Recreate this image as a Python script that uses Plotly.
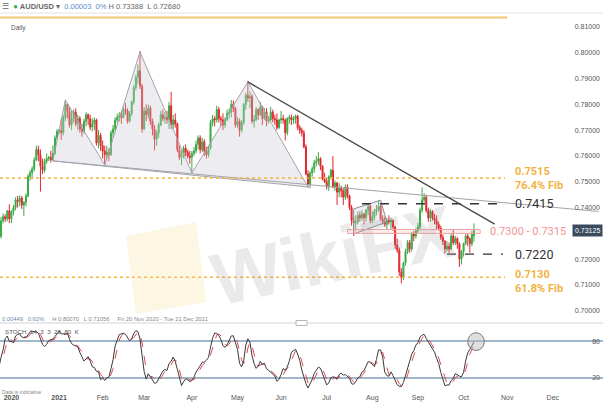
import numpy as np
import pandas as pd
import plotly.graph_objects as go

# AUD/USD daily candles, Fri 20 Nov 2020 - Fri 8 Oct 2021 (prices in pips, x 0.0001)
DATES = pd.bdate_range("2020-11-20", "2021-10-08")

OPEN = [7310,
        7295, 7288, 7349, 7365, 7357,  7387, 7357, 7385, 7400, 7430,
        7424, 7437, 7410, 7420, 7445,  7520, 7535, 7550, 7585, 7625,
        7605, 7560, 7545, 7580, 7590,  7595, 7585, 7610, 7670, 7695,
        7700, 7690, 7750, 7800, 7775,  7720, 7745, 7770, 7725, 7745,
        7705, 7695, 7735, 7760, 7745,  7712, 7725, 7740, 7650, 7680,
        7640, 7620, 7605, 7615, 7605,  7690, 7705, 7740, 7750, 7755,
        7750, 7780, 7775, 7735, 7765,  7810, 7865, 7905, 7930, 7870,
        7705, 7775, 7760, 7785, 7735,  7705, 7665, 7690, 7720, 7760,
        7745, 7750, 7740, 7795, 7720,  7740, 7725, 7625, 7595, 7605,
        7630, 7615, 7600, 7595, 7610,  7620, 7645, 7670, 7625, 7655,
        7620, 7605, 7630, 7730, 7745,  7740, 7780, 7745, 7740, 7720,
        7740, 7765, 7770, 7800, 7785,  7720, 7735, 7700, 7730, 7800,
        7835, 7825, 7830, 7735, 7740,  7780, 7760, 7790, 7745, 7770,
        7735, 7740, 7770, 7745, 7740,  7710, 7740, 7745, 7740, 7690,
        7745, 7750, 7740, 7745, 7755,  7710, 7700, 7690, 7635, 7530,
        7490, 7535, 7550, 7575, 7580,  7590, 7560, 7510, 7500, 7480,
        7520, 7545, 7480, 7495, 7460,  7475, 7465, 7440, 7480, 7445,
        7400, 7350, 7340, 7345, 7370,  7360, 7375, 7360, 7390, 7405,
        7350, 7365, 7385, 7395, 7405,  7355, 7345, 7335, 7350, 7345,
        7350, 7325, 7255, 7235, 7150,  7130, 7185, 7230, 7265, 7240,
        7300, 7290, 7310, 7325, 7390,  7430, 7440, 7390, 7360, 7385,
        7360, 7350, 7335, 7320, 7285,  7270, 7240, 7250, 7240, 7290,
        7265, 7280, 7260, 7200, 7230,  7260, 7290, 7280, 7260, 7290]

HIGH = [7320,
        7339, 7364, 7378, 7374, 7391,  7413, 7390, 7410, 7440, 7445,
        7448, 7445, 7425, 7455, 7530,  7545, 7560, 7595, 7640, 7640,
        7625, 7590, 7590, 7610, 7600,  7620, 7640, 7680, 7705, 7705,
        7742, 7760, 7818, 7805, 7790,  7775, 7780, 7785, 7760, 7755,
        7725, 7745, 7770, 7765, 7760,  7745, 7750, 7745, 7700, 7690,
        7660, 7640, 7640, 7630, 7700,  7720, 7750, 7765, 7770, 7770,
        7790, 7805, 7785, 7775, 7815,  7875, 7915, 7955, 8007, 7880,
        7790, 7800, 7800, 7795, 7745,  7720, 7700, 7730, 7775, 7780,
        7770, 7775, 7810, 7849, 7760,  7765, 7730, 7640, 7620, 7640,
        7645, 7625, 7620, 7620, 7635,  7660, 7680, 7680, 7670, 7665,
        7635, 7640, 7740, 7760, 7755,  7795, 7790, 7755, 7765, 7750,
        7780, 7785, 7817, 7815, 7790,  7750, 7745, 7740, 7805, 7845,
        7891, 7850, 7840, 7760, 7790,  7785, 7810, 7795, 7785, 7785,
        7755, 7790, 7780, 7760, 7765,  7745, 7775, 7760, 7745, 7750,
        7760, 7760, 7755, 7760, 7760,  7720, 7710, 7700, 7645, 7545,
        7540, 7560, 7585, 7600, 7615,  7595, 7565, 7535, 7515, 7525,
        7550, 7599, 7505, 7500, 7495,  7485, 7475, 7490, 7490, 7450,
        7410, 7365, 7370, 7385, 7385,  7390, 7380, 7395, 7415, 7410,
        7385, 7395, 7410, 7427, 7410,  7370, 7365, 7360, 7370, 7360,
        7355, 7330, 7280, 7245, 7165,  7190, 7240, 7275, 7275, 7305,
        7310, 7320, 7340, 7400, 7478,  7455, 7450, 7400, 7395, 7390,
        7375, 7370, 7345, 7330, 7295,  7275, 7270, 7265, 7300, 7315,
        7290, 7285, 7265, 7235, 7265,  7300, 7300, 7285, 7310, 7338.8]

LOW = [7270,
       7276, 7280, 7339, 7344, 7347,  7340, 7340, 7370, 7390, 7400,
       7405, 7395, 7368, 7405, 7440,  7505, 7510, 7540, 7580, 7580,
       7462, 7530, 7535, 7570, 7580,  7575, 7580, 7605, 7660, 7685,
       7662, 7680, 7735, 7745, 7710,  7700, 7730, 7715, 7700, 7690,
       7675, 7685, 7715, 7720, 7700,  7695, 7700, 7640, 7630, 7620,
       7590, 7565, 7590, 7580, 7600,  7670, 7695, 7730, 7735, 7725,
       7745, 7760, 7725, 7730, 7755,  7800, 7855, 7880, 7860, 7690,
       7700, 7735, 7745, 7720, 7680,  7622, 7640, 7670, 7715, 7735,
       7725, 7725, 7705, 7705, 7705,  7710, 7615, 7585, 7565, 7590,
       7600, 7590, 7570, 7532, 7600,  7610, 7625, 7610, 7615, 7600,
       7590, 7595, 7625, 7715, 7715,  7730, 7730, 7715, 7700, 7710,
       7735, 7745, 7750, 7770, 7710,  7710, 7675, 7690, 7720, 7780,
       7810, 7785, 7725, 7710, 7735,  7740, 7755, 7720, 7740, 7715,
       7725, 7735, 7730, 7720, 7700,  7705, 7725, 7725, 7660, 7680,
       7725, 7720, 7725, 7725, 7700,  7685, 7675, 7630, 7525, 7477,
       7475, 7520, 7535, 7560, 7565,  7545, 7505, 7495, 7470, 7465,
       7510, 7475, 7465, 7410, 7440,  7440, 7410, 7430, 7435, 7390,
       7330, 7290, 7310, 7335, 7345,  7350, 7335, 7345, 7370, 7340,
       7340, 7350, 7370, 7385, 7350,  7335, 7325, 7315, 7335, 7315,
       7310, 7240, 7225, 7135, 7106,  7120, 7175, 7220, 7225, 7230,
       7270, 7280, 7300, 7315, 7380,  7420, 7380, 7345, 7345, 7350,
       7335, 7315, 7310, 7275, 7255,  7222, 7230, 7225, 7235, 7255,
       7255, 7240, 7170, 7180, 7210,  7255, 7250, 7225, 7250, 7268.0]

CLOSE = [7295,
         7288, 7349, 7365, 7357, 7387,  7357, 7385, 7400, 7430, 7424,
         7437, 7410, 7420, 7445, 7520,  7535, 7550, 7585, 7625, 7605,
         7560, 7545, 7580, 7590, 7595,  7585, 7610, 7670, 7695, 7700,
         7690, 7750, 7800, 7775, 7720,  7745, 7770, 7725, 7745, 7705,
         7695, 7735, 7760, 7745, 7712,  7725, 7740, 7650, 7680, 7640,
         7620, 7605, 7615, 7605, 7690,  7705, 7740, 7750, 7755, 7750,
         7780, 7775, 7735, 7765, 7810,  7865, 7905, 7930, 7870, 7705,
         7775, 7760, 7785, 7735, 7705,  7665, 7690, 7720, 7760, 7745,
         7750, 7740, 7795, 7720, 7740,  7725, 7625, 7595, 7605, 7630,
         7615, 7600, 7595, 7610, 7620,  7645, 7670, 7625, 7655, 7620,
         7605, 7630, 7730, 7745, 7740,  7780, 7745, 7740, 7720, 7740,
         7765, 7770, 7800, 7785, 7720,  7735, 7700, 7730, 7800, 7835,
         7825, 7830, 7735, 7740, 7780,  7760, 7790, 7745, 7770, 7735,
         7740, 7770, 7745, 7740, 7710,  7740, 7745, 7740, 7690, 7745,
         7750, 7740, 7745, 7755, 7710,  7700, 7690, 7635, 7530, 7490,
         7535, 7550, 7575, 7580, 7590,  7560, 7510, 7500, 7480, 7520,
         7545, 7480, 7495, 7460, 7475,  7465, 7440, 7480, 7445, 7400,
         7350, 7340, 7345, 7370, 7360,  7375, 7360, 7390, 7405, 7350,
         7365, 7385, 7395, 7405, 7355,  7345, 7335, 7350, 7345, 7350,
         7325, 7255, 7235, 7150, 7130,  7185, 7230, 7265, 7240, 7300,
         7290, 7310, 7325, 7390, 7430,  7440, 7390, 7360, 7385, 7360,
         7350, 7335, 7320, 7285, 7270,  7240, 7250, 7240, 7290, 7265,
         7280, 7260, 7200, 7230, 7260,  7290, 7280, 7260, 7300, 7312.5]

# levels and drawings
FIB_TOP = 0.8137
FIB_764 = 0.7515
FIB_618 = 0.7130
FIB_END = "2021-10-29"
RES_7415 = 0.7415
RES_START = "2021-07-26"
SUP_7220 = 0.7220
SUP_START = "2021-09-21"
LEVEL_END = "2021-10-28"
ZONE_LOW, ZONE_HIGH = 0.7300, 0.7315
ZONE_START, ZONE_END = "2021-07-15", "2021-10-13"

HS_DATES = ["2020-12-29", "2021-01-06", "2021-02-02", "2021-02-25", "2021-04-01", "2021-05-10", "2021-06-18"]
HS_PRICES = [0.7581, 0.7817, 0.7565, 0.8003, 0.7534, 0.7887, 0.7480]
NECK_END = ("2021-12-31", 0.7385)
TREND_DATES = ["2021-05-10", "2021-10-22"]
TREND_PRICES = [0.7887, 0.7336]
FLAG_DATES = ["2021-07-20", "2021-08-06", "2021-08-11", "2021-07-20"]
FLAG_PRICES = [0.7395, 0.7429, 0.7344, 0.7298]

X_START, X_END = "2020-11-23 12:00", "2022-01-04 05:00"

o = np.array(OPEN) / 10000
h = np.array(HIGH) / 10000
l = np.array(LOW) / 10000
c = np.array(CLOSE) / 10000

# STOCH 14 3 3
hh = pd.Series(h).rolling(14, min_periods=1).max()
ll = pd.Series(l).rolling(14, min_periods=1).min()
raw_k = 100 * (pd.Series(c) - ll) / (hh - ll)
stoch_k = raw_k.rolling(3, min_periods=1).mean()
stoch_d = stoch_k.rolling(3, min_periods=1).mean()

FONT = "Liberation Sans"
LABEL_FONT = "Roboto"
skip = dict(hoverinfo="skip", showlegend=False)

fig = go.Figure()

# head & shoulders
fig.add_trace(go.Scatter(x=HS_DATES + HS_DATES[:1], y=HS_PRICES + HS_PRICES[:1], mode="lines",
                         fill="toself", fillcolor="rgba(200,200,212,0.33)",
                         line=dict(color="#a3a3ab", width=1), **skip))
fig.add_trace(go.Scatter(x=[HS_DATES[0], NECK_END[0]], y=[HS_PRICES[0], NECK_END[1]], mode="lines",
                         line=dict(color="#a3a3ab", width=1), **skip))
# flag
fig.add_trace(go.Scatter(x=FLAG_DATES + FLAG_DATES[:1], y=FLAG_PRICES + FLAG_PRICES[:1], mode="lines",
                         fill="toself", fillcolor="rgba(200,200,212,0.3)",
                         line=dict(color="#8d8d95", width=1), **skip))
# zone 0.7300 - 0.7315
fig.add_trace(go.Scatter(x=[ZONE_START, ZONE_END, ZONE_END, ZONE_START, ZONE_START],
                         y=[ZONE_LOW, ZONE_LOW, ZONE_HIGH, ZONE_HIGH, ZONE_LOW], mode="lines",
                         fill="toself", fillcolor="rgba(245,160,160,0.18)",
                         line=dict(color="#f2a3a3", width=1), **skip))
# fib levels
for lvl in [FIB_764, FIB_618]:
    fig.add_trace(go.Scatter(x=[X_START, FIB_END], y=[lvl, lvl], mode="lines",
                             line=dict(color="#f4b43c", width=1.5, dash="dot"), **skip))
fig.add_trace(go.Scatter(x=[X_START, "2021-11-01"], y=[FIB_TOP, FIB_TOP], mode="lines",
                         line=dict(color="#f3c46e", width=2), **skip))

fig.add_trace(go.Candlestick(
    x=DATES, open=o, high=h, low=l, close=c, whiskerwidth=0,
    increasing=dict(line=dict(color="#3aab46", width=1), fillcolor="#3aab46"),
    decreasing=dict(line=dict(color="#e2262d", width=1), fillcolor="#e2262d"),
    hoverinfo="skip", showlegend=False))

# resistance / support dashed
fig.add_trace(go.Scatter(x=[RES_START, LEVEL_END], y=[RES_7415, RES_7415], mode="lines",
                         line=dict(color="#333333", width=1.3, dash="dash"), **skip))
fig.add_trace(go.Scatter(x=[SUP_START, LEVEL_END], y=[SUP_7220, SUP_7220], mode="lines",
                         line=dict(color="#333333", width=1.3, dash="dash"), **skip))
# descending trendline
fig.add_trace(go.Scatter(x=TREND_DATES, y=TREND_PRICES, mode="lines",
                         line=dict(color="#4a4a4a", width=1.4), **skip))

# stochastic
fig.add_trace(go.Scatter(x=DATES, y=stoch_d, yaxis="y2", mode="lines",
                         line=dict(color="#e0474f", width=1, dash="dash"), **skip))
fig.add_trace(go.Scatter(x=DATES, y=stoch_k, yaxis="y2", mode="lines",
                         line=dict(color="#3a3a3a", width=1), **skip))

k_last = float(stoch_k.iloc[-1])
fig.add_shape(type="circle", xref="x", yref="y2",
              x0=DATES[-4], x1=DATES[-1] + pd.offsets.BDay(5),
              y0=k_last - 14, y1=k_last + 15,
              fillcolor="rgba(185,185,185,0.45)", line=dict(color="#7a7a7a", width=1))

month_ticks = pd.date_range("2020-12-01", "2021-12-31", freq="BMS")
month_text = ["<b>2020</b>", "<b>2021</b>"] + [d.strftime("%b") for d in month_ticks[2:]]

# separators
fig.add_shape(type="line", xref="paper", yref="paper", x0=0, x1=1, y0=1 - 13 / 403, y1=1 - 13 / 403,
              line=dict(color="#e2e2e2", width=1))
fig.add_shape(type="line", xref="paper", yref="paper", x0=0, x1=1, y0=1 - 323 / 403, y1=1 - 323 / 403,
              line=dict(color="#d3d3d3", width=1.2))
fig.add_shape(type="rect", xref="paper", yref="paper", x0=296 / 603, x1=307 / 603,
              y0=1 - 325.5 / 403, y1=1 - 320.5 / 403,
              fillcolor="#ffffff", line=dict(color="#b8b8b8", width=1))

# watermark logo
logo_px = [(126, 236), (196, 222), (206, 302), (136, 314)]
path = "M " + " L ".join(f"{x / 603:.4f},{1 - y / 403:.4f}" for x, y in logo_px) + " Z"
fig.add_shape(type="path", xref="paper", yref="paper", path=path,
              fillcolor="rgba(246,222,150,0.28)", line=dict(width=0))

ann = []
def txt(text, x, y, size, color, xanchor="left", yref="paper", family=FONT, **kw):
    ann.append(dict(text=text, x=x, y=y, xref="paper", yref=yref, xanchor=xanchor,
                    yanchor="middle", showarrow=False, align="left",
                    font=dict(family=family, size=size, color=color), **kw))

txt("<b>WikiFX</b>", 0.553, 0.365, 74, "rgba(150,150,150,0.2)", xanchor="center", textangle=-12)

txt("☰  <span style='color:#2eaa4a'>●</span> <b>AUD/USD</b> ▾  "
    "<span style='color:#5b8bd0'>0.00003  0%</span> H 0.73388  L 0.72680",
    0.0, 1 - 6 / 403, 7.5, "#666666")
txt("Daily", 9 / 603, 1 - 28 / 403, 6.5, "#555555")
txt("<span style='color:#6b8fb8'>0.00449   0.62%</span>     H 0.80070   L 0.71056     "
    "Fri 20 Nov 2020 - Tue 21 Dec 2021", 0.0, 1 - 319 / 403, 5.8, "#888888")
txt("STOCH  14  3  3  20  80  K", 3 / 603, 1 - 331 / 403, 6.2, "#555555")
txt("Data is indicative", 0.0, 1 - 392 / 403, 5.2, "#888888")

lab_x = 513 / 603
txt("<b>0.7515</b><br><b>76.4% Fib</b>", lab_x, FIB_764, 11, "#f2b13f", yref="y",
    family=LABEL_FONT, yshift=-1)
txt("<b>0.7130</b><br><b>61.8% Fib</b>", lab_x, FIB_618, 11, "#f2b13f", yref="y",
    family=LABEL_FONT, yshift=-4)
txt("0.7415", lab_x, RES_7415, 12.5, "#333333", yref="y", family=LABEL_FONT)
txt("0.7220", lab_x, SUP_7220, 12.5, "#333333", yref="y", family=LABEL_FONT)
txt("0.7300 - 0.7315", 488 / 603, (ZONE_LOW + ZONE_HIGH) / 2, 11, "#f09696", yref="y",
    family=LABEL_FONT)
txt("0.73125", 1.0, c[-1], 7, "#ffffff", xanchor="right", yref="y",
    bgcolor="#3b4a5e", borderpad=2)

fig.update_layout(
    width=603, height=403, margin=dict(l=0, r=0, t=0, b=0),
    paper_bgcolor="white", plot_bgcolor="white",
    font=dict(family=FONT, size=7, color="#555555"),
    showlegend=False, annotations=ann,
    xaxis=dict(type="date", range=[X_START, X_END], rangebreaks=[dict(bounds=["sat", "mon"])],
               anchor="y2", tickvals=month_ticks, ticktext=month_text, ticks="",
               tickfont=dict(size=7, color="#555555"), showgrid=False, showline=False,
               zeroline=False, rangeslider=dict(visible=False), automargin=False),
    yaxis=dict(domain=[1 - 323 / 403, 1 - 13 / 403], range=[0.69527, 0.81543], side="right",
               anchor="x", ticklabelposition="inside", tickformat=".5f", tick0=0.70, dtick=0.01,
               ticks="", showgrid=False, zeroline=False, showline=False,
               tickfont=dict(size=7, color="#555555"), automargin=False),
    yaxis2=dict(domain=[1 - 392 / 403, 1 - 323 / 403], range=[-3.2, 109.7], side="right",
                anchor="x", ticklabelposition="inside", tickvals=[20, 80], ticks="",
                showgrid=True, gridcolor="#a2b6ca", gridwidth=1.5, zeroline=False,
                tickfont=dict(size=7, color="#555555"), automargin=False),
)

# the page's default body margin would push the figure 8px right and down
fig.write_html("out.html", config={"displayModeBar": False},
               post_script="document.body.style.margin='0';"
                           "document.documentElement.style.overflow='hidden';")
